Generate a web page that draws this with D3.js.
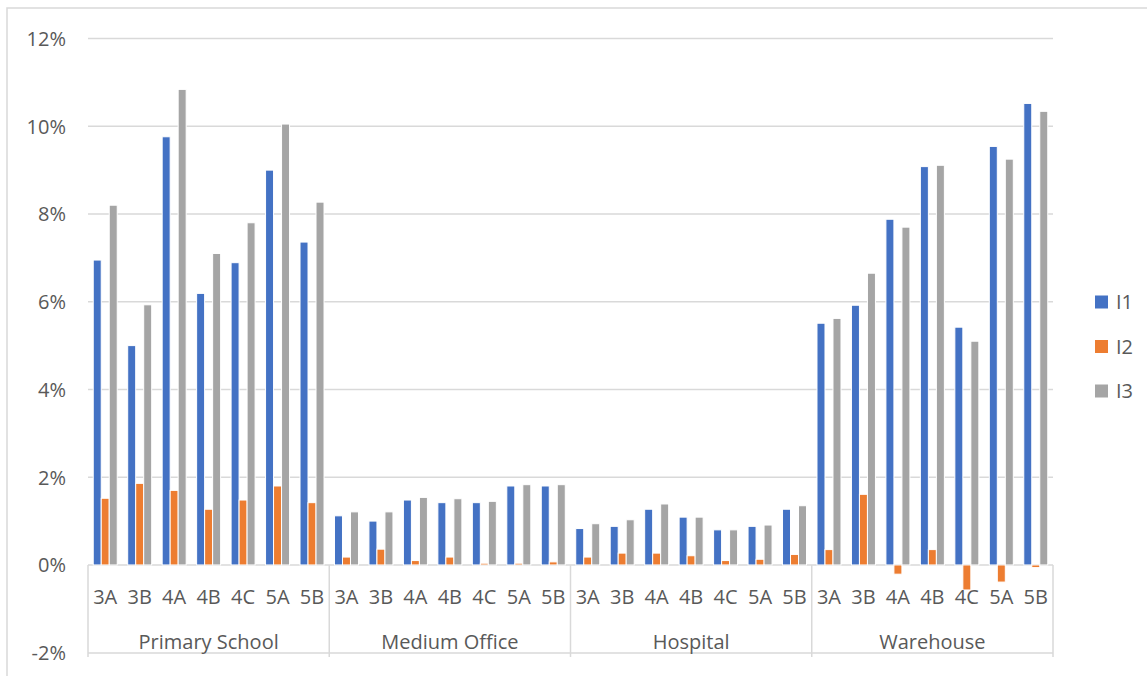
<!DOCTYPE html>
<html>
<head>
<meta charset="utf-8">
<script src="https://cdn.jsdelivr.net/npm/d3@7"></script>
<style>
  html, body { margin: 0; padding: 0; background: #fff; }
  svg { display: block; font-family: "Open Sans", sans-serif; }
</style>
</head>
<body>
<svg id="chart" width="1147" height="676"></svg>
<script>
// Building types and climate zones
const groups = ["Primary School", "Medium Office", "Hospital", "Warehouse"];
const zones = ["3A", "3B", "4A", "4B", "4C", "5A", "5B"];
const seriesNames = ["I1", "I2", "I3"];
const seriesColors = ["#4472C4", "#ED7D31", "#A5A5A5"];
const yTicks = [-0.02, 0, 0.02, 0.04, 0.06, 0.08, 0.10, 0.12];

// Values per series, ordered group by group, zone by zone
const i1 = [
  0.0695, 0.0500, 0.0976, 0.0619, 0.0689, 0.0900, 0.0736,
  0.0112, 0.0100, 0.0148, 0.0142, 0.0142, 0.0180, 0.0180,
  0.0083, 0.0088, 0.0127, 0.0109, 0.0080, 0.0088, 0.0127,
  0.0551, 0.0592, 0.0788, 0.0908, 0.0542, 0.0954, 0.1052
];
const i2 = [
  0.0152, 0.0186, 0.0170, 0.0127, 0.0148, 0.0180, 0.0142,
  0.0018, 0.0036, 0.0010, 0.0018, 0.0004, 0.0004, 0.0007,
  0.0018, 0.0027, 0.0027, 0.0021, 0.0010, 0.0013, 0.0024,
  0.0035, 0.0161, -0.0021, 0.0035, -0.0057, -0.0039, -0.0006
];
const i3 = [
  0.0820, 0.0593, 0.1084, 0.0710, 0.0780, 0.1005, 0.0827,
  0.0121, 0.0121, 0.0154, 0.0151, 0.0145, 0.0183, 0.0183,
  0.0094, 0.0103, 0.0139, 0.0109, 0.0080, 0.0091, 0.0135,
  0.0562, 0.0665, 0.0770, 0.0911, 0.0510, 0.0925, 0.1034
];
const seriesValues = [i1, i2, i3];

const rows = [];
groups.forEach((g, gi) => zones.forEach((z, zi) => {
  const idx = gi * zones.length + zi;
  rows.push({ key: g + "|" + z, group: g, zone: z, values: seriesValues.map(s => s[idx]) });
}));

const svg = d3.select("#chart");
const textColor = "#595959";
const lineColor = "#d9d9d9";

// Outer chart frame
svg.append("rect")
  .attr("x", 7).attr("y", 8).attr("width", 1160).attr("height", 690)
  .attr("fill", "none").attr("stroke", lineColor).attr("stroke-width", 1.5);

const plotLeft = 88, plotRight = 1053;
const x = d3.scaleBand().domain(rows.map(r => r.key)).range([plotLeft, plotRight]).padding(0);
const xs = d3.scaleBand().domain(seriesNames).range([0, x.bandwidth()])
  .paddingInner(0).paddingOuter(0.654);
const y = d3.scaleLinear().domain([-0.02, 0.12]).range([652.7, 38.5]);

// Horizontal gridlines
svg.append("g").selectAll("line").data(yTicks.filter(t => t !== -0.02)).join("line")
  .attr("x1", plotLeft).attr("x2", plotRight)
  .attr("y1", d => y(d)).attr("y2", d => y(d))
  .attr("stroke", lineColor).attr("stroke-width", 1.5);

// Y axis labels (plain hyphen for negatives)
const pct = v => Math.round(v * 100) + "%";
const yAxis = d3.axisLeft(y).tickValues(yTicks).tickFormat(pct).tickSize(0).tickPadding(0);
const yg = svg.append("g").attr("transform", "translate(66,0)").call(yAxis);
yg.select(".domain").remove();
yg.selectAll("text")
  .attr("fill", textColor).attr("font-size", 20)
  .attr("font-family", "'Open Sans', sans-serif")
  .attr("dy", "0.35em");

// Bars
const barG = svg.append("g");
rows.forEach(r => {
  barG.append("g").attr("transform", `translate(${x(r.key)},0)`)
    .selectAll("rect").data(r.values.map((v, i) => ({ v, s: seriesNames[i], c: seriesColors[i] })))
    .join("rect")
    .attr("x", d => xs(d.s))
    .attr("width", xs.bandwidth())
    .attr("y", d => y(Math.max(0, d.v)))
    .attr("height", d => Math.abs(y(d.v) - y(0)))
    .attr("fill", d => d.c)
    .attr("stroke", "#fff").attr("stroke-width", 1);
});

// Category axis: zone labels, group labels, separators
const axisG = svg.append("g");
const bottomLine = 653;
const sepBottom = 657;
axisG.append("line")
  .attr("x1", plotLeft).attr("x2", plotRight)
  .attr("y1", bottomLine).attr("y2", bottomLine)
  .attr("stroke", lineColor).attr("stroke-width", 1.5);

const groupEdges = groups.map((g, gi) => x(g + "|" + zones[0]));
groupEdges.push(plotRight);
axisG.selectAll("line.sep").data(groupEdges).join("line")
  .attr("class", "sep")
  .attr("x1", d => d).attr("x2", d => d)
  .attr("y1", y(0)).attr("y2", sepBottom)
  .attr("stroke", lineColor).attr("stroke-width", 1.5);

axisG.selectAll("text.zone").data(rows).join("text")
  .attr("class", "zone")
  .attr("x", d => x(d.key) + x.bandwidth() / 2)
  .attr("y", 604)
  .attr("text-anchor", "middle")
  .attr("fill", textColor).attr("font-size", 20)
  .text(d => d.zone);

axisG.selectAll("text.group").data(groups).join("text")
  .attr("class", "group")
  .attr("x", (d, i) => (groupEdges[i] + groupEdges[i + 1]) / 2)
  .attr("y", 649)
  .attr("text-anchor", "middle")
  .attr("fill", textColor).attr("font-size", 20)
  .text(d => d);

// Legend
const legend = svg.append("g");
seriesNames.forEach((s, i) => {
  const cy = 302 + i * 44.5;
  legend.append("rect")
    .attr("x", 1095).attr("y", cy - 6.5).attr("width", 13).attr("height", 13)
    .attr("fill", seriesColors[i]);
  legend.append("text")
    .attr("x", 1116).attr("y", cy).attr("dy", "0.35em")
    .attr("fill", textColor).attr("font-size", 20)
    .text(s);
});
</script>
</body>
</html>
